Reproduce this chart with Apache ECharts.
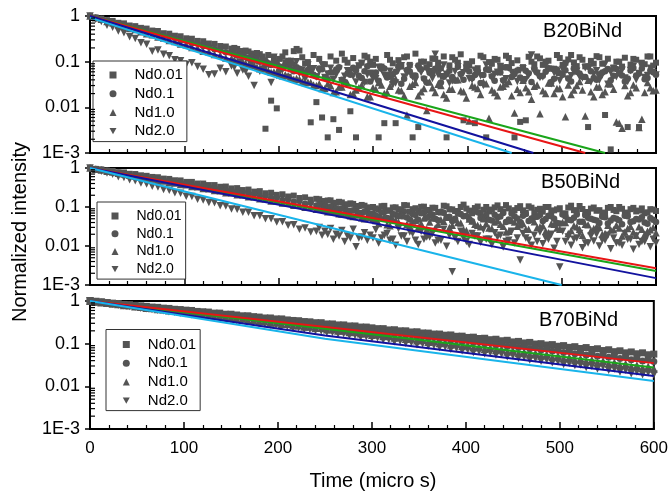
<!DOCTYPE html>
<html><head><meta charset="utf-8">
<script src="https://cdn.jsdelivr.net/npm/echarts@6/dist/echarts.min.js"></script>
<style>html,body{margin:0;padding:0;background:#fff}#c{width:671px;height:496px}</style>
</head><body><div id="c"></div>
<script>
const FONT = '"Liberation Sans", Arial, sans-serif';
const seriesNames = ['Nd0.01', 'Nd0.1', 'Nd1.0', 'Nd2.0'];
const panelLabels = ['B20BiNd', 'B50BiNd', 'B70BiNd'];
const yTickLabels = {1: '1', 0.1: '0.1', 0.01: '0.01', 0.001: '1E-3'};
const yMinorTicks = [0.002,0.003,0.004,0.005,0.006,0.007,0.008,0.009,0.02,0.03,0.04,0.05,0.06,0.07,0.08,0.09,0.2,0.3,0.4,0.5,0.6,0.7,0.8,0.9];

const times = [0,6,12,18,24,30,36,42,48,54, 60,66,72,78,84,90,96,102,108,114, 120,126,132,138,144,150,156,162,168,174, 180,186,192,198,204,210,216,222,228,234, 240,246,252,258,264,270,276,282,288,294, 300,306,312,318,324,330,336,342,348,354, 360,366,372,378,384,390,396,402,408,414, 420,426,432,438,444,450,456,462,468,474, 480,486,492,498,504,510,516,522,528,534, 540,546,552,558,564,570,576,582,588,594, 600];
const timesB1 = [153,159,165,171,177,183,189,195,201,207, 213,219,225,231,237,243,249,255,261,267, 273,279,285,291,297,303,309,315,321,327, 333,339,345,351,357,363,369,375,381,387, 393,399,405,411,417,423,429,435,441,447, 453,459,465,471,477,483,489,495,501,507, 513,519,525,531,537,543,549,555,561,567, 573,579,585,591,597];
const timesB2 = [243,249,255,261,267,273,279,285,291,297, 303,309,315,321,327,333,339,345,351,357, 363,369,375,381,387,393,399,405,411,417, 423,429,435,441,447,453,459,465,471,477, 483,489,495,501,507,513,519,525,531,537, 543,549,555,561,567,573,579,585,591,597];

// ---- Panel 1: B20BiNd ----
const p1Sq = [1,0.93,0.88,0.81,0.78,0.71,0.69,0.62,0.6,0.55,
 0.53,0.48,0.47,0.42,0.41,0.37,0.36,0.325,0.318,0.285,
 0.28,0.25,0.245,0.22,0.215,0.193,0.19,0.17,0.167,0.149,
 0.146,0.0034,0.014,0.0095,0.13,0.105,0.17,0.175,0.092,0.0047,
 0.013,0.006,0.0022,0.0055,0.0032,0.11,0.0082,0.0022,0.095,0.125,
 0.085,0.0022,0.0045,0.11,0.0045,0.078,0.13,0.0022,0.0037,0.1,
 0.088,0.115,0.072,0.0022,0.125,0.095,0.0052,0.082,0.0045,0.135,
 0.0022,0.09,0.11,0.075,0.12,0.0022,0.0048,0.0052,0.1,0.13,
 0.085,0.105,0.07,0.12,0.095,0.14,0.08,0.11,0.0037,0.09,
 0.125,0.0068,0.0012,0.1,0.078,0.0037,0.115,0.0037,0.088,0.13,
 0.095];
const p1Ci = [1,0.92,0.865,0.79,0.745,0.68,0.645,0.585,0.555,0.505,
 0.465,0.445,0.4,0.385,0.345,0.332,0.296,0.288,0.254,0.249,
 0.22,0.214,0.188,0.185,0.16,0.16,0.138,0.139,0.118,0.12,
 0.1,0.105,0.085,0.091,0.072,0.08,0.062,0.07,0.054,0.062,
 0.048,0.068,0.041,0.058,0.075,0.036,0.052,0.064,0.044,0.079,
 0.055,0.038,0.071,0.047,0.06,0.033,0.066,0.05,0.082,0.043,
 0.057,0.07,0.035,0.053,0.046,0.077,0.04,0.061,0.051,0.034,
 0.067,0.048,0.059,0.039,0.074,0.054,0.045,0.063,0.036,0.058,
 0.049,0.072,0.042,0.056,0.065,0.037,0.06,0.047,0.078,0.044,
 0.053,0.062,0.039,0.069,0.05,0.043,0.073,0.055,0.041,0.064,
 0.052];
const p1Tr = [1,0.91,0.845,0.76,0.71,0.64,0.6,0.535,0.505,0.45,
 0.41,0.39,0.345,0.33,0.29,0.278,0.243,0.234,0.203,0.197,
 0.17,0.165,0.143,0.139,0.12,0.117,0.1,0.098,0.084,0.083,
 0.07,0.069,0.059,0.058,0.049,0.049,0.041,0.041,0.035,0.035,
 0.03,0.026,0.033,0.021,0.028,0.038,0.019,0.024,0.031,0.017,
 0.027,0.035,0.02,0.029,0.042,0.023,0.0068,0.032,0.018,0.026,
 0.036,0.021,0.03,0.016,0.025,0.04,0.022,0.005,0.028,0.019,
 0.033,0.024,0.018,0.029,0.037,0.0075,0.021,0.027,0.015,0.031,
 0.023,0.034,0.02,0.026,0.0062,0.019,0.03,0.024,0.039,0.017,
 0.028,0.022,0.033,0.0048,0.0035,0.018,0.031,0.0036,0.021,0.027,
 0.024];
const p1Dn = [1,0.85,0.76,0.63,0.57,0.47,0.43,0.35,0.32,0.26,
 0.24,0.17,0.18,0.145,0.135,0.11,0.105,0.088,0.095,0.078,
 0.068,0.052,0.054,0.072,0.06,0.08,0.056,0.066,0.048,0.03,
 0.062,0.077,0.035,0.05,0.066,0.045,0.084,0.055,0.041,0.07,
 0.046,0.085,0.054,0.04,0.068,0.048,0.058,0.036,0.091,0.052,
 0.043,0.075,0.05,0.062,0.034,0.081,0.055,0.046,0.07,0.039,
 0.06,0.145,0.047,0.053,0.038,0.077,0.057,0.042,0.065,0.049,
 0.085,0.044,0.059,0.036,0.073,0.051,0.064,0.04,0.14,0.055,
 0.046,0.068,0.057,0.038,0.081,0.049,0.062,0.044,0.075,0.053,
 0.039,0.088,0.059,0.047,0.065,0.037,0.078,0.055,0.045,0.072,
 0.051];
// in-between readings of the noisy tail (times in timesB1)
const p1SqB = [0.2,0.17,0.175,0.15,0.155,0.13,0.14,0.12,0.115,0.16,
 0.105,0.19,0.125,0.098,0.14,0.115,0.088,0.13,0.105,0.15,
 0.095,0.12,0.082,0.135,0.1,0.115,0.078,0.14,0.092,0.108,
 0.125,0.085,0.15,0.1,0.075,0.118,0.095,0.13,0.083,0.11,
 0.145,0.09,0.102,0.072,0.125,0.098,0.115,0.08,0.135,0.093,
 0.107,0.076,0.128,0.088,0.118,0.1,0.07,0.14,0.085,0.112,
 0.096,0.125,0.079,0.104,0.132,0.09,0.116,0.074,0.1,0.122,
 0.086,0.11,0.095,0.13,0.082];
const p1CiB = [0.15,0.14,0.125,0.13,0.105,0.11,0.092,0.1,0.078,0.088,
 0.068,0.075,0.06,0.066,0.052,0.071,0.045,0.058,0.067,0.04,
 0.055,0.074,0.049,0.062,0.037,0.058,0.07,0.045,0.053,0.08,
 0.042,0.061,0.05,0.068,0.035,0.057,0.076,0.047,0.063,0.039,
 0.054,0.072,0.044,0.06,0.051,0.066,0.038,0.058,0.075,0.046,
 0.064,0.041,0.056,0.07,0.048,0.06,0.036,0.067,0.052,0.043,
 0.073,0.055,0.046,0.062,0.04,0.058,0.069,0.049,0.056,0.037,
 0.064,0.05,0.071,0.044,0.059];
const p1TrB = [0.11,0.1,0.092,0.087,0.076,0.073,0.063,0.06,0.053,0.052,
 0.045,0.043,0.037,0.036,0.031,0.033,0.026,0.03,0.022,0.028,
 0.034,0.02,0.027,0.038,0.017,0.025,0.031,0.021,0.042,0.024,
 0.018,0.029,0.035,0.022,0.0085,0.027,0.032,0.019,0.025,0.04,
 0.023,0.016,0.03,0.026,0.036,0.0058,0.021,0.028,0.033,0.018,
 0.025,0.039,0.022,0.029,0.0072,0.02,0.034,0.026,0.017,0.031,
 0.024,0.037,0.0065,0.022,0.028,0.019,0.033,0.025,0.0045,0.03,
 0.021,0.027,0.0055,0.035,0.023];
const p1DnB = [0.075,0.098,0.062,0.088,0.11,0.069,0.082,0.125,0.057,0.093,
 0.078,0.1,0.066,0.085,0.07,0.06,0.045,0.072,0.052,0.038,
 0.063,0.048,0.08,0.035,0.056,0.042,0.07,0.05,0.031,0.065,
 0.046,0.075,0.039,0.058,0.068,0.043,0.052,0.085,0.034,0.061,
 0.049,0.072,0.04,0.055,0.03,0.066,0.053,0.078,0.042,0.058,
 0.037,0.07,0.05,0.062,0.045,0.082,0.033,0.054,0.067,0.041,
 0.059,0.047,0.074,0.036,0.063,0.051,0.032,0.071,0.055,0.044,
 0.064,0.04,0.078,0.05,0.057];
const p1FitRed = [[0,1],[525,0.001]];
const p1FitGreen = [[0,1],[546,0.001]];
const p1FitBlue = [[0,1],[470,0.001]];
const p1FitCyan = [[0,0.92],[447,0.001]];

// ---- Panel 2: B50BiNd ----
const p2Sq = [1,0.95,0.92,0.86,0.84,0.78,0.77,0.71,0.7,0.65,
 0.63,0.59,0.58,0.535,0.525,0.485,0.48,0.44,0.44,0.4,
 0.4,0.365,0.365,0.33,0.335,0.3,0.305,0.272,0.28,0.248,
 0.255,0.225,0.232,0.205,0.212,0.186,0.196,0.17,0.177,0.154,
 0.162,0.14,0.147,0.127,0.136,0.115,0.124,0.104,0.113,0.095,
 0.1,0.085,0.107,0.082,0.098,0.076,0.11,0.088,0.079,0.102,
 0.084,0.095,0.072,0.104,0.087,0.078,0.115,0.081,0.094,0.07,
 0.1,0.086,0.11,0.077,0.092,0.083,0.105,0.071,0.096,0.085,
 0.076,0.1,0.082,0.093,0.068,0.108,0.08,0.089,0.074,0.097,
 0.083,0.07,0.1,0.078,0.09,0.072,0.095,0.081,0.069,0.088,
 0.079];
const p2Ci = [1,0.94,0.9,0.845,0.81,0.755,0.73,0.68,0.655,0.61,
 0.575,0.56,0.515,0.5,0.462,0.45,0.415,0.405,0.372,0.364,
 0.332,0.328,0.298,0.296,0.266,0.265,0.238,0.24,0.213,0.216,
 0.19,0.194,0.17,0.175,0.152,0.158,0.136,0.142,0.122,0.128,
 0.11,0.116,0.098,0.104,0.088,0.093,0.079,0.085,0.07,0.076,
 0.068,0.056,0.074,0.05,0.063,0.081,0.054,0.066,0.047,0.071,
 0.06,0.05,0.075,0.055,0.044,0.068,0.058,0.049,0.079,0.052,
 0.062,0.045,0.055,0.07,0.048,0.058,0.041,0.066,0.051,0.056,
 0.044,0.06,0.05,0.038,0.057,0.046,0.064,0.042,0.053,0.047,
 0.039,0.055,0.045,0.05,0.036,0.058,0.043,0.048,0.04,0.052,
 0.041];
const p2Tr = [1,0.935,0.885,0.83,0.79,0.735,0.705,0.65,0.625,0.58,
 0.545,0.525,0.482,0.466,0.428,0.415,0.38,0.37,0.336,0.33,
 0.298,0.292,0.263,0.26,0.233,0.231,0.206,0.206,0.182,0.183,
 0.162,0.163,0.143,0.145,0.126,0.129,0.111,0.115,0.098,0.102,
 0.088,0.092,0.076,0.082,0.067,0.074,0.06,0.066,0.053,0.059,
 0.05,0.038,0.057,0.033,0.046,0.062,0.036,0.044,0.03,0.052,
 0.041,0.029,0.047,0.055,0.034,0.04,0.026,0.049,0.036,0.031,
 0.038,0.028,0.045,0.032,0.024,0.041,0.035,0.027,0.048,0.03,
 0.033,0.022,0.036,0.027,0.04,0.025,0.031,0.019,0.035,0.028,
 0.03,0.021,0.026,0.034,0.018,0.028,0.023,0.031,0.02,0.026,
 0.022];
const p2Dn = [1,0.9,0.83,0.74,0.69,0.6,0.57,0.5,0.47,0.41,
 0.39,0.34,0.325,0.28,0.27,0.232,0.225,0.19,0.186,0.158,
 0.152,0.13,0.128,0.108,0.106,0.089,0.088,0.073,0.073,0.06,
 0.06,0.05,0.05,0.041,0.042,0.034,0.035,0.027,0.029,0.023,
 0.024,0.019,0.02,0.015,0.018,0.013,0.016,0.0095,0.017,0.014,
 0.016,0.012,0.019,0.014,0.0105,0.018,0.013,0.021,0.011,0.015,
 0.017,0.012,0.014,0.0098,0.0022,0.013,0.016,0.011,0.018,0.0125,
 0.015,0.011,0.017,0.0094,0.014,0.012,0.0044,0.016,0.0105,0.013,
 0.0115,0.015,0.0088,0.0029,0.013,0.0105,0.016,0.009,0.012,0.0135,
 0.01,0.014,0.0085,0.012,0.0105,0.015,0.0082,0.011,0.013,0.0095,
 0.012];
// in-between readings of the noisy tail (times in timesB2)
const p2SqB = [0.158,0.142,0.148,0.128,0.131,0.117,0.12,0.106,0.108,0.098,
 0.092,0.105,0.08,0.097,0.088,0.112,0.075,0.093,0.101,0.083,
 0.096,0.074,0.108,0.087,0.079,0.1,0.091,0.069,0.103,0.085,
 0.077,0.098,0.088,0.112,0.073,0.094,0.082,0.104,0.071,0.09,
 0.1,0.079,0.087,0.068,0.097,0.083,0.106,0.074,0.091,0.08,
 0.072,0.095,0.084,0.1,0.067,0.088,0.077,0.092,0.073,0.086];
const p2CiB = [0.115,0.105,0.1,0.09,0.092,0.08,0.083,0.071,0.075,0.065,
 0.06,0.072,0.052,0.066,0.058,0.077,0.048,0.062,0.069,0.053,
 0.064,0.046,0.071,0.056,0.05,0.066,0.059,0.043,0.073,0.054,
 0.047,0.063,0.057,0.041,0.068,0.051,0.06,0.044,0.055,0.062,
 0.049,0.058,0.039,0.064,0.047,0.053,0.042,0.061,0.05,0.045,
 0.056,0.038,0.052,0.046,0.06,0.041,0.049,0.055,0.037,0.047];
const p2TrB = [0.09,0.085,0.078,0.074,0.066,0.068,0.057,0.062,0.05,0.055,
 0.045,0.054,0.035,0.049,0.041,0.06,0.032,0.046,0.038,0.027,
 0.052,0.036,0.043,0.03,0.048,0.039,0.025,0.044,0.034,0.05,
 0.029,0.041,0.036,0.023,0.045,0.032,0.038,0.027,0.042,0.031,
 0.024,0.037,0.029,0.04,0.021,0.033,0.027,0.036,0.025,0.031,
 0.02,0.034,0.026,0.029,0.023,0.032,0.019,0.027,0.024,0.03];
const p2DnB = [0.03,0.024,0.028,0.02,0.025,0.018,0.027,0.016,0.022,0.019,
 0.026,0.016,0.021,0.015,0.028,0.018,0.023,0.014,0.024,0.017,
 0.021,0.014,0.027,0.019,0.016,0.024,0.013,0.021,0.018,0.026,
 0.015,0.022,0.019,0.013,0.024,0.016,0.021,0.014,0.019,0.023,
 0.016,0.02,0.013,0.024,0.017,0.015,0.021,0.012,0.018,0.02,
 0.014,0.019,0.016,0.012,0.021,0.015,0.018,0.013,0.019,0.015];
const p2FitRed = [[0,1],[600,0.0027]];
const p2FitGreen = [[0,1],[600,0.0023]];
const p2FitBlue = [[0,1],[600,0.0015]];
const p2FitCyan = [[0,1],[500,0.001]];

// ---- Panel 3: B70BiNd ----
const p3Sq = [1,0.96,0.95,0.91,0.89,0.87,0.83,0.82,0.79,0.77,
 0.75,0.72,0.71,0.68,0.67,0.64,0.63,0.61,0.6,0.57,
 0.56,0.55,0.52,0.52,0.49,0.49,0.47,0.45,0.45,0.43,
 0.42,0.4,0.4,0.38,0.38,0.36,0.35,0.345,0.33,0.325,
 0.31,0.31,0.29,0.29,0.275,0.275,0.26,0.26,0.245,0.245,
 0.235,0.225,0.225,0.21,0.212,0.2,0.2,0.188,0.19,0.178,
 0.177,0.168,0.168,0.158,0.16,0.149,0.15,0.14,0.142,0.132,
 0.134,0.124,0.127,0.117,0.12,0.11,0.113,0.104,0.107,0.098,
 0.1,0.093,0.095,0.087,0.09,0.082,0.085,0.077,0.081,0.073,
 0.076,0.069,0.072,0.065,0.068,0.061,0.064,0.058,0.061,0.055,
 0.057];
const p3Ci = [1,0.965,0.93,0.91,0.875,0.855,0.82,0.8,0.765,0.75,
 0.72,0.705,0.67,0.66,0.63,0.62,0.59,0.58,0.55,0.545,
 0.52,0.51,0.485,0.478,0.452,0.45,0.424,0.42,0.397,0.394,
 0.372,0.37,0.348,0.347,0.326,0.325,0.305,0.305,0.286,0.286,
 0.268,0.269,0.25,0.252,0.234,0.237,0.219,0.222,0.205,0.209,
 0.192,0.196,0.18,0.184,0.168,0.173,0.157,0.162,0.147,0.152,
 0.139,0.143,0.13,0.134,0.12,0.126,0.113,0.118,0.106,0.111,
 0.099,0.104,0.093,0.097,0.087,0.091,0.081,0.086,0.076,0.08,
 0.071,0.075,0.067,0.07,0.062,0.066,0.058,0.062,0.054,0.058,
 0.051,0.054,0.048,0.051,0.045,0.048,0.042,0.045,0.039,0.042,
 0.038];
const p3Tr = [1,0.96,0.925,0.9,0.86,0.84,0.8,0.78,0.745,0.725,
 0.69,0.675,0.645,0.63,0.6,0.585,0.555,0.545,0.52,0.51,
 0.48,0.475,0.447,0.442,0.415,0.41,0.385,0.383,0.36,0.356,
 0.334,0.332,0.311,0.31,0.289,0.288,0.268,0.268,0.249,0.249,
 0.232,0.232,0.215,0.216,0.2,0.2,0.186,0.187,0.172,0.174,
 0.16,0.163,0.149,0.152,0.138,0.141,0.128,0.131,0.119,0.122,
 0.11,0.114,0.102,0.106,0.094,0.099,0.087,0.092,0.081,0.086,
 0.075,0.08,0.07,0.074,0.065,0.069,0.06,0.064,0.056,0.06,
 0.052,0.056,0.048,0.052,0.045,0.048,0.042,0.045,0.039,0.042,
 0.036,0.039,0.034,0.036,0.031,0.034,0.029,0.031,0.027,0.029,
 0.026];
const p3Dn = [1,0.955,0.92,0.88,0.85,0.81,0.785,0.75,0.725,0.69,
 0.67,0.645,0.615,0.6,0.57,0.555,0.525,0.515,0.485,0.475,
 0.452,0.44,0.415,0.408,0.383,0.376,0.353,0.349,0.326,0.322,
 0.303,0.298,0.279,0.276,0.257,0.255,0.237,0.236,0.218,0.218,
 0.203,0.202,0.186,0.186,0.17,0.172,0.157,0.158,0.144,0.147,
 0.135,0.137,0.123,0.126,0.113,0.116,0.104,0.107,0.095,0.099,
 0.089,0.092,0.082,0.085,0.075,0.078,0.069,0.072,0.063,0.066,
 0.059,0.062,0.055,0.057,0.05,0.053,0.046,0.049,0.042,0.045,
 0.039,0.042,0.036,0.038,0.033,0.035,0.031,0.032,0.028,0.03,
 0.026,0.029,0.024,0.026,0.022,0.024,0.02,0.022,0.019,0.021,
 0.019];
const p3FitRed = [[0,1],[600,0.035]];
const p3FitGreen = [[0,1],[600,0.0275]];
const p3FitBlue = [[0,1],[250,0.155],[600,0.0174]];
const p3FitCyan = [[0,1],[250,0.13],[600,0.0133]];

const panels = [
  {scatter: [p1Sq, p1Ci, p1Tr, p1Dn], extraT: timesB1, extra: [p1SqB, p1CiB, p1TrB, p1DnB],
   fits: [p1FitGreen, p1FitRed, p1FitBlue, p1FitCyan], sizes: [6, 6.5, 7.5, 7.5]},
  {scatter: [p2Sq, p2Ci, p2Tr, p2Dn], extraT: timesB2, extra: [p2SqB, p2CiB, p2TrB, p2DnB],
   fits: [p2FitGreen, p2FitRed, p2FitBlue, p2FitCyan], sizes: [6, 6.5, 7.5, 7.5]},
  {scatter: [p3Sq, p3Ci, p3Tr, p3Dn], extraT: null, extra: null,
   fits: [p3FitGreen, p3FitRed, p3FitBlue, p3FitCyan], sizes: [7, 7, 8, 8]}
];
const fitColors = ['#1aa51a', '#e81515', '#12129e', '#19b4ea'];
const symbols = ['rect', 'circle', 'triangle', 'path://M0,0L10,0L5,9Z'];
const POINT = '#545454';

const gridsPos = [
  {left: 90, top: 16, width: 566, height: 137},
  {left: 90, top: 168, width: 566, height: 117},
  {left: 90, top: 301, width: 566, height: 128}
];
const legendPos = [
  {left: 93, top: 61, fs: 15, pad: [6.5, 4, 3, 16.5], tp: 13},
  {left: 97, top: 202, fs: 14, pad: [7, 4, 3, 14.5], tp: 13},
  {left: 106, top: 329.5, fs: 15, pad: [7.5, 4, 2.5, 16.8], tp: 13}
];
const labelPos = [{x: 622, y: 31}, {x: 620, y: 182}, {x: 618, y: 320}];

const option = {
  animation: false,
  backgroundColor: '#fff',
  grid: gridsPos.map(g => Object.assign({show: true, borderColor: '#000', borderWidth: 2, backgroundColor: 'transparent'}, g)),
  xAxis: gridsPos.map((g, k) => ({
    type: 'value', gridIndex: k, min: 0, max: 600, interval: 100,
    axisLine: {lineStyle: {color: '#000', width: 2}},
    axisTick: {inside: true, length: 7, lineStyle: {color: '#000', width: 1.5}},
    minorTick: {show: true, splitNumber: 5, length: 4, lineStyle: {color: '#000', width: 1.2}},
    splitLine: {show: false},
    axisLabel: {show: k === 2, fontSize: 17, color: '#000', margin: 11, fontFamily: FONT}
  })),
  yAxis: gridsPos.map((g, k) => ({
    type: 'log', logBase: 10, gridIndex: k, min: 0.001, max: 1,
    axisLine: {show: true, lineStyle: {color: '#000', width: 2}},
    axisTick: {show: true, inside: false, length: 5, lineStyle: {color: '#000', width: 1.5}},
    splitLine: {show: false},
    axisLabel: {fontSize: 18, color: '#000', margin: 10, fontFamily: FONT,
      formatter: v => v > 0.5 ? yTickLabels[1] : v > 0.05 ? yTickLabels[0.1] : v > 0.005 ? yTickLabels[0.01] : yTickLabels[0.001]}
  })),
  legend: legendPos.map(l => ({
    left: l.left, top: l.top, orient: 'vertical', selectedMode: false,
    itemWidth: 7, itemHeight: 7, itemGap: 3.7,
    padding: l.pad, borderColor: '#333', borderWidth: 1, backgroundColor: '#fff',
    textStyle: {fontSize: l.fs, lineHeight: l.fs, color: '#000', fontFamily: FONT, padding: [0, 0, 0, l.tp]},
    data: seriesNames
  })),
  graphic: [
    ...panelLabels.map((t, k) => ({type: 'text', x: labelPos[k].x, y: labelPos[k].y, z: 100,
      style: {text: t, fontSize: 20, fontFamily: FONT, fill: '#000', textAlign: 'right', textVerticalAlign: 'middle'}})),
    {type: 'text', x: 20, y: 232, rotation: Math.PI / 2, z: 100,
      style: {text: 'Normalized intensity', fontSize: 20, fontFamily: FONT, fill: '#000', textAlign: 'center', textVerticalAlign: 'middle'}},
    {type: 'text', x: 373, y: 481, z: 100,
      style: {text: 'Time (micro s)', fontSize: 20, fontFamily: FONT, fill: '#000', textAlign: 'center', textVerticalAlign: 'middle'}}
  ],
  series: []
};

panels.forEach((p, k) => {
  p.scatter.forEach((vals, s) => {
    let data = times.map((t, i) => [t, vals[i]]);
    if (p.extra) data = data.concat(p.extraT.map((t, i) => [t, p.extra[s][i]]));
    option.series.push({
      type: 'scatter', name: seriesNames[s], xAxisIndex: k, yAxisIndex: k,
      symbol: symbols[s], symbolSize: p.sizes[s], silent: true,
      itemStyle: {color: POINT, opacity: 1},
      data: data, z: 2
    });
  });
  p.fits.forEach((f, s) => {
    option.series.push({
      type: 'line', xAxisIndex: k, yAxisIndex: k, data: f, symbol: 'none', silent: true,
      lineStyle: {color: fitColors[s], width: 2}, z: 3
    });
  });
  option.series.push({
    type: 'custom', xAxisIndex: k, yAxisIndex: k, silent: true, clip: false, z: 4,
    data: yMinorTicks.map(v => [0, v]),
    renderItem: (params, api) => {
      const pt = api.coord([0, api.value(1)]);
      return {type: 'line', shape: {x1: pt[0] + 1, y1: pt[1], x2: pt[0] + 5, y2: pt[1]},
        style: {stroke: '#000', lineWidth: 1.2}};
    }
  });
});

const chart = echarts.init(document.getElementById('c'), null, {renderer: 'canvas'});
chart.setOption(option);
</script>
</body></html>
